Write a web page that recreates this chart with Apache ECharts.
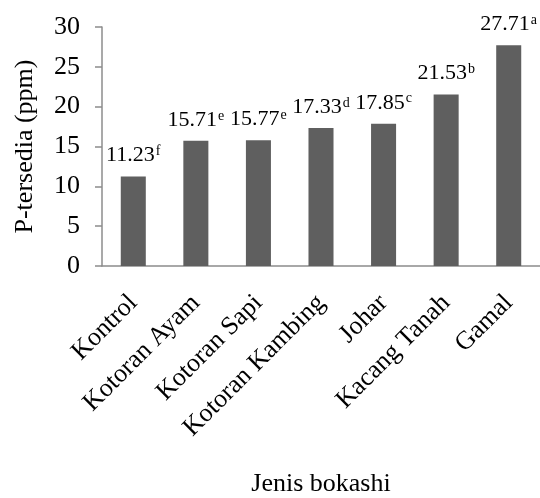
<!DOCTYPE html>
<html>
<head>
<meta charset="utf-8">
<script src="https://cdn.jsdelivr.net/npm/echarts@6/dist/echarts.min.js"></script>
<style>
  html, body { margin: 0; padding: 0; background: #fff; }
  #chart { width: 540px; height: 498px; }
</style>
</head>
<body>
<div id="chart"></div>
<script>
// Available phosphorus by bokashi type, with letter groups from the mean separation test
const categories = ['Kontrol', 'Kotoran Ayam', 'Kotoran Sapi', 'Kotoran Kambing', 'Johar', 'Kacang Tanah', 'Gamal'];
const values = [11.23, 15.71, 15.77, 17.33, 17.85, 21.53, 27.71];
const letters = ['f', 'e', 'e', 'd', 'c', 'b', 'a'];
const yTicks = [0, 5, 10, 15, 20, 25, 30];

const serif = '"Liberation Serif", "Times New Roman", serif';
const chart = echarts.init(document.getElementById('chart'), null, { renderer: 'canvas' });

chart.setOption({
  animation: false,
  backgroundColor: '#ffffff',
  grid: { left: 102, right: -3, top: 27, bottom: 232, containLabel: false },
  xAxis: {
    type: 'category',
    data: categories,
    name: 'Jenis bokashi',
    nameLocation: 'middle',
    nameGap: 205,
    nameTextStyle: { fontFamily: serif, fontSize: 26, color: '#000', verticalAlign: 'top' },
    axisLine: { lineStyle: { color: '#8c8c8c', width: 1.5 } },
    axisTick: { show: false },
    axisLabel: {
      rotate: 45,
      interval: 0,
      margin: 33,
      fontFamily: serif,
      fontSize: 26,
      color: '#000'
    }
  },
  yAxis: {
    type: 'value',
    min: yTicks[0],
    max: yTicks[yTicks.length - 1],
    interval: 5,
    name: 'P-tersedia (ppm)',
    nameLocation: 'middle',
    nameGap: 64,
    nameTextStyle: { fontFamily: serif, fontSize: 26, color: '#000' },
    splitLine: { show: false },
    axisLine: { show: true, lineStyle: { color: '#8c8c8c', width: 1.5 } },
    axisTick: { show: true, length: 7, lineStyle: { color: '#8c8c8c', width: 1.5 } },
    axisLabel: { margin: 22, fontFamily: serif, fontSize: 26, color: '#000' }
  },
  series: [{
    type: 'bar',
    data: values,
    barWidth: '40%',
    itemStyle: { color: '#5f5f5f' },
    label: {
      show: true,
      position: 'top',
      distance: 10,
      formatter: p => '{v|' + p.value.toFixed(2) + '}{s|' + letters[p.dataIndex] + '}',
      rich: {
        v: { fontFamily: serif, fontSize: 22, color: '#000' },
        s: { fontFamily: serif, fontSize: 14, color: '#000', verticalAlign: 'top', padding: [0, 0, 8, 1] }
      }
    }
  }]
});
</script>
</body>
</html>
